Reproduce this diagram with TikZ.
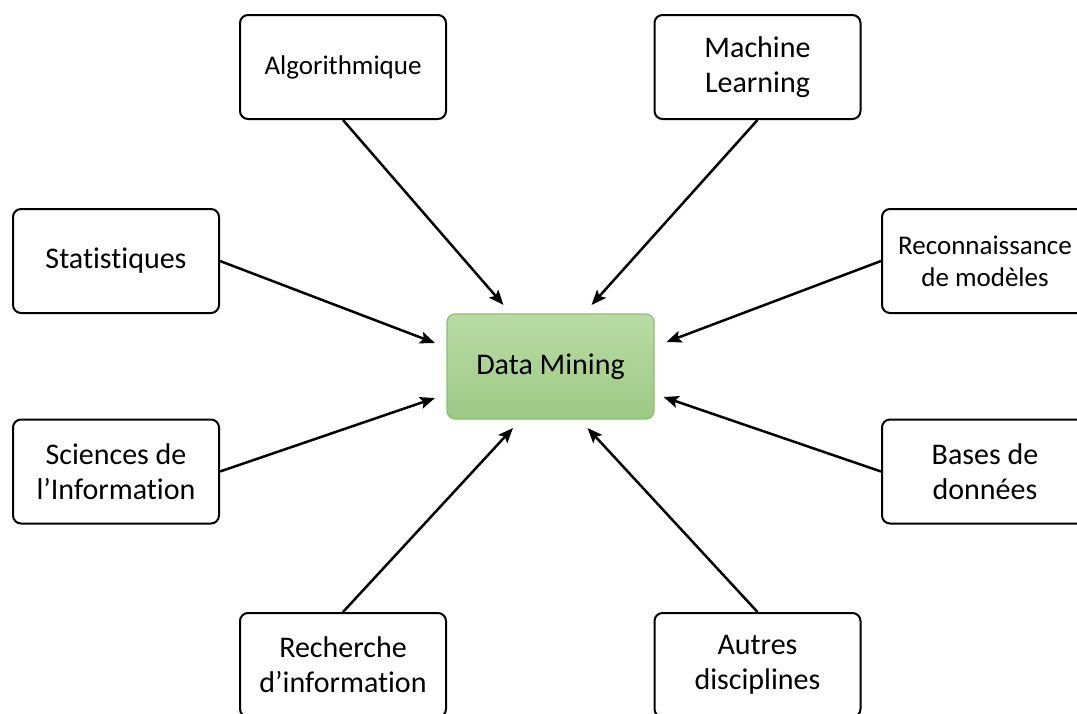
\documentclass[tikz,border=0pt]{standalone}
\usepackage{fontspec}
\setmainfont{Carlito}[Ligatures=NoCommon]
\usepackage{tikz}
\usetikzlibrary{arrows.meta,calc,positioning}
\definecolor{dmtop}{RGB}{186,219,166}
\definecolor{dmbot}{RGB}{156,202,132}
\definecolor{dmline}{RGB}{140,190,114}
\tikzset{
  field/.style={draw=black, line width=2pt, rounded corners=8pt, fill=white,
    minimum width=206pt, minimum height=104pt, inner sep=0pt, align=center,
    font=\fontsize{30}{35}\selectfont},
  smallfield/.style={field, font=\fontsize{27}{32}\selectfont},
  core/.style={field, draw=dmline, line width=1.2pt, top color=dmtop, bottom color=dmbot,
    minimum width=207pt, minimum height=105pt},
  feed/.style={-{Stealth[length=15pt,width=12pt,inset=3pt]}, line width=2.5pt}
}
\begin{document}
\begin{tikzpicture}[x=1pt, y=-1pt]
  \useasboundingbox (0,0) rectangle (1077,713);
  % centre
  \node[core] (dm) at (550.5,366.5) {Data Mining};
  % fields around it
  \node[smallfield] (alg) at (343,67) {Algorithmique};
  \node[field] (ml) at (757.5,67) {Machine\\Learning};
  \node[field] (stat) at (116,261) {Statistiques};
  \node[smallfield] (reco) at (985,261) {Reconnaissance\\de modèles};
  \node[field] (sci) at (116,471.5) {Sciences de\\l’Information};
  \node[field] (bdd) at (985,471.5) {Bases de\\données};
  \node[field] (rech) at (343,665) {Recherche\\d’information};
  \node[field] (autres) at (757.5,665) {Autres\\disciplines};
  % arrows into the centre
  \draw[feed] (alg.south) -- ([shift={(-47,-61.5)}]dm.center);
  \draw[feed] (ml.south) -- ([shift={(41,-61.5)}]dm.center);
  \draw[feed] (stat.east) -- ([shift={(-115.5,-23.5)}]dm.center);
  \draw[feed] (reco.west) -- ([shift={(116,-24.5)}]dm.center);
  \draw[feed] (sci.east) -- ([shift={(-115.5,31.5)}]dm.center);
  \draw[feed] (bdd.west) -- ([shift={(113,30.5)}]dm.center);
  \draw[feed] (rech.north) -- ([shift={(-37.5,61.5)}]dm.center);
  \draw[feed] (autres.north) -- ([shift={(37,61.5)}]dm.center);
\end{tikzpicture}
\end{document}
